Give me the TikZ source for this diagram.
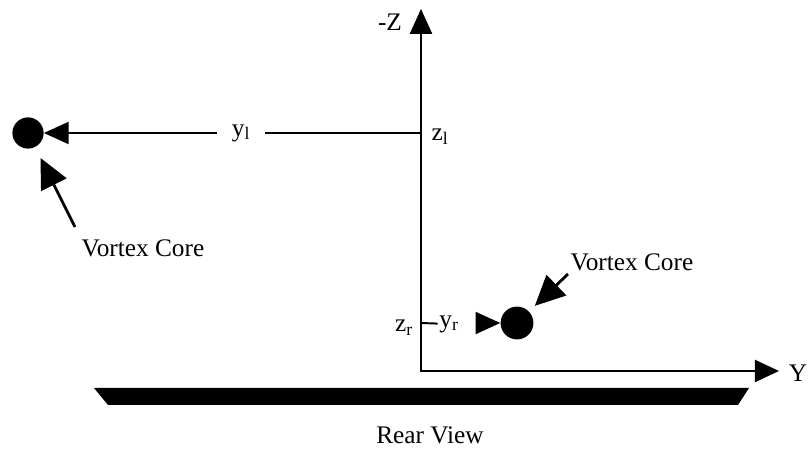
\documentclass[tikz,border=0pt]{standalone}
\usepackage{fontspec}
\setmainfont{Liberation Serif}
\usetikzlibrary{arrows.meta}

\begin{document}
\begin{tikzpicture}[
    x=0.025cm, y=-0.025cm,
    font=\fontsize{18}{20}\selectfont,
    ax/.style={{Triangle[length=0.62cm, width=0.55cm]}-{Triangle[length=0.6cm, width=0.55cm]},
               line width=1.4pt},
    arr/.style={-{Triangle[length=0.62cm, width=0.55cm]}, line width=1.5pt},
    ptr/.style={-{Triangle[length=0.75cm, width=0.7cm]}, line width=2pt},
    core/.style={circle, fill=black, minimum size=0.78cm, inner sep=0pt},
    lbl/.style={inner sep=1pt}
  ]
  \useasboundingbox (0,0) rectangle (812,452);

  % axes
  \coordinate (O)  at (421,371);
  \coordinate (zt) at (421,9);
  \coordinate (yt) at (779,371);
  \draw[ax] (zt) -- (O) -- (yt);
  \node[lbl] (zax) at (390,22)  {-Z};
  \node[lbl] (yax) at (798,373) {Y};

  % left vortex
  \node[core] (lcore) at (28,133) {};
  \coordinate (zl) at (421,133);
  \node[lbl, minimum width=1.2cm] (yl) at (241,133) {y\textsubscript{l}};
  \node[lbl] (zll) at (440,137) {z\textsubscript{l}};
  \draw[arr] (zl) -- (yl) -- (lcore);
  \node (lvc) at (143,248) {Vortex Core};
  \coordinate (lp) at (75,227);
  \draw[ptr, shorten >=0.3cm] (lp) -- (lcore);

  % right vortex
  \node[core, minimum size=0.82cm] (rcore) at (517,323) {};
  \coordinate (zr) at (421,323);
  \node[lbl] (yr) at (449,324) {y\textsubscript{r}};
  \node[lbl] (zrl) at (404,328) {z\textsubscript{r}};
  \draw[line width=1.4pt] (zr) -- (yr);
  \coordinate (rt) at (476,323);
  \draw[arr] (rt) -- (rcore);
  \node (rvc) at (632,262) {Vortex Core};
  \coordinate (rp) at (568,274);
  \draw[ptr, shorten >=0.2cm] (rp) -- (rcore);

  % ground
  \fill (94,388) -- (749,388) -- (738,405) -- (108,405) -- cycle;
  \node (rear) at (430,435) {Rear View};

\end{tikzpicture}
\end{document}
